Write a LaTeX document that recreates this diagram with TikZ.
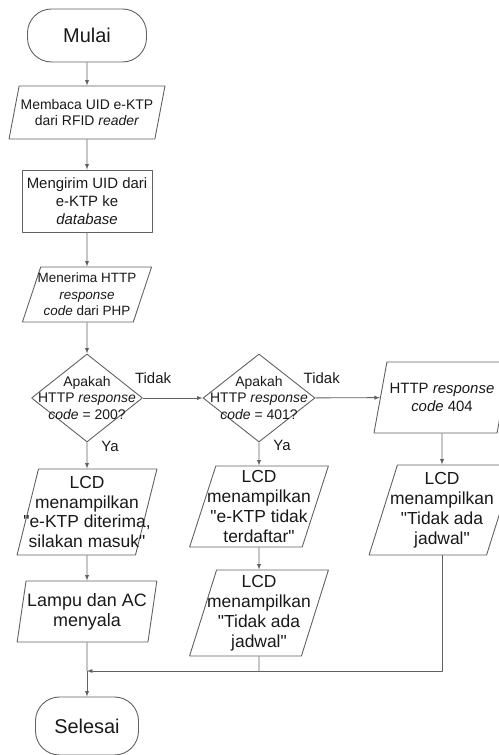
\documentclass[tikz,border=0pt]{standalone}
\usepackage{fontspec}
\setmainfont{Liberation Sans}[Ligatures=TeXOff]
\usepackage{tikz}
\usetikzlibrary{shapes,arrows}

\definecolor{linecol}{rgb}{0.38,0.38,0.38}
\definecolor{textcol}{rgb}{0.1,0.1,0.1}
\tikzset{
  box/.style={draw=linecol,text=textcol,line width=0.9bp,align=center},
  term/.style={box,rectangle,rounded corners=24bp,font=\fontsize{20}{22}\selectfont},
  proc/.style={box,rectangle,inner sep=0bp,font=\fontsize{15}{18}\selectfont},
  io/.style={box,trapezium,trapezium left angle=75,trapezium right angle=105,
    trapezium stretches=true,inner xsep=-20bp,inner ysep=0bp},
  dec/.style={box,diamond,aspect=1.26,inner sep=-12bp,font=\fontsize{14}{16.5}\selectfont},
  lab/.style={text=textcol,font=\fontsize{15}{17}\selectfont,inner sep=0bp},
  small/.style={font=\fontsize{14}{15.5}\selectfont},
  big/.style={font=\fontsize{17.5}{20}\selectfont},
}

\begin{document}
\begin{tikzpicture}[>=latex,line join=bevel,draw=linecol,line width=0.9bp]
%%
  \useasboundingbox (0bp,0bp) rectangle (499bp,755bp);
  \node (mulai) at (87bp,719.5bp) [term,minimum width=119bp,minimum height=53bp] {Mulai};
  \node (baca) at (87bp,642.5bp) [io,small,minimum width=156bp,minimum height=53bp] {Membaca UID e-KTP\\dari RFID \textit{reader}};
  \node (kirim) at (87bp,554bp) [proc,minimum width=130bp,minimum height=62bp] {Mengirim UID dari\\e-KTP ke\\\textit{database}};
  \node (terima) at (87bp,460.5bp) [io,font=\fontsize{13.5}{16.7}\selectfont,minimum width=130bp,minimum height=55bp] {Menerima HTTP\\\textit{response}\\\textit{code} dari PHP};
  \node (cek200) at (87bp,357bp) [dec,minimum width=111bp,minimum height=88bp] {Apakah\\HTTP \textit{response}\\\textit{code} = 200?};
  \node (cek401) at (259bp,357bp) [dec,minimum width=112bp,minimum height=88bp] {Apakah\\HTTP \textit{response}\\\textit{code} = 401?};
  \node (kode404) at (442bp,357.5bp) [io,font=\fontsize{15}{18}\selectfont,minimum width=137bp,minimum height=71bp] {HTTP \textit{response}\\\textit{code} 404};
  \node (lcd1) at (87bp,243bp) [io,big,minimum width=140bp,minimum height=86bp] {LCD\\menampilkan\\"e-KTP diterima,\\silakan masuk"};
  \node (lampu) at (87bp,143.5bp) [io,font=\fontsize{18}{20}\selectfont,trapezium left angle=81,trapezium right angle=99,minimum width=140bp,minimum height=61bp] {Lampu dan AC\\menyala};
  \node (lcd2) at (259bp,248.5bp) [io,big,minimum width=139bp,minimum height=81bp] {LCD\\menampilkan\\"e-KTP tidak\\terdaftar"};
  \node (lcd2b) at (259bp,142bp) [io,big,minimum width=139bp,minimum height=86bp] {LCD\\menampilkan\\"Tidak ada\\jadwal"};
  \node (lcd3) at (442bp,245bp) [io,big,minimum width=146bp,minimum height=90bp] {LCD\\menampilkan\\"Tidak ada\\jadwal"};
  \node (selesai) at (87bp,29bp) [term,minimum width=103bp,minimum height=58bp] {Selesai};
  \coordinate (gabung) at (87bp,84bp);
  \draw [->] (mulai) -- (baca);
  \draw [->] (baca) -- (kirim);
  \draw [->] (kirim) -- (terima);
  \draw [->] (terima) -- (cek200);
  \draw [->] (cek200) -- node [lab,pos=0.17,above=14bp] {Tidak} (cek401);
  \draw [->] (cek200) -- node [lab,pos=0.15,right=14bp] {Ya} (lcd1);
  \draw [->] (cek401) -- node [lab,pos=0.1,above=14bp] {Tidak} (kode404);
  \draw [->] (cek401) -- node [lab,pos=0.15,right=14bp] {Ya} (lcd2);
  \draw [->] (kode404) -- (lcd3);
  \draw [->] (lcd1) -- (lampu);
  \draw [->] (lcd2) -- (lcd2b);
  \draw [] (lampu) -- (gabung);
  \draw [->] (gabung) -- (selesai);
  \draw [->] (lcd3) |- (gabung);
  \draw [] (lcd2b) -- (lcd2b |- gabung);
%
\end{tikzpicture}
\end{document}
